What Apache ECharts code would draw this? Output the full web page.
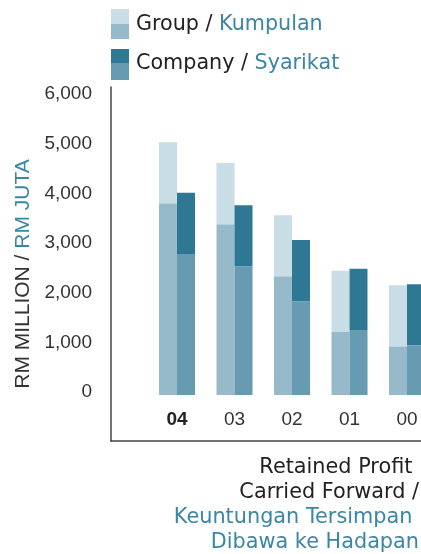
<!DOCTYPE html>
<html>
<head>
<meta charset="utf-8">
<script src="https://cdn.jsdelivr.net/npm/echarts@6/dist/echarts.min.js"></script>
<style>
  html, body { margin: 0; padding: 0; background: #fff; }
  #myChart { width: 421px; height: 554px; }
</style>
</head>
<body>
<div id="myChart"></div>
<script>
    // years, newest first
    let years = ['04', '03', '02', '01', '00'];
    // total height of each bar (RM million)
    let groupTotal = [5090, 4670, 3620, 2500, 2210];
    let companyTotal = [4070, 3820, 3120, 2540, 2230];
    // darker cap drawn on top of every bar
    let capSize = 1230;
    let yTicks = [0, 1000, 2000, 3000, 4000, 5000, 6000];

    let groupBase = groupTotal.map(v => v - capSize);
    let groupCap = groupTotal.map(() => capSize);
    let companyBase = companyTotal.map(v => v - capSize);
    let companyCap = companyTotal.map(() => capSize);

    let teal = '#3a86a4';
    let txtFont = '"DejaVu Sans", sans-serif';
    let numFont = '"Liberation Sans", Arial, sans-serif';
    let yMin = -926, yMax = 6201;

    let myChart = echarts.init(document.getElementById('myChart'));
    let option = {
        animation: false,
        title: {
            text: '{a|Retained Profit }\n{a|Carried Forward /}\n{b|Keuntungan Tersimpan }\n{b|Dibawa ke Hadapan}',
            right: -3,
            top: 450,
            textStyle: {
                fontWeight: 'normal',
                rich: {
                    a: { fontFamily: txtFont, fontSize: 20.8, color: '#222', lineHeight: 25, align: 'right' },
                    b: { fontFamily: txtFont, fontSize: 20.8, color: teal, lineHeight: 25, align: 'right' }
                }
            }
        },
        graphic: [
            // legend swatches
            { type: 'rect', shape: { x: 111, y: 9, width: 18, height: 15 }, style: { fill: '#c9dde6' } },
            { type: 'rect', shape: { x: 111, y: 24, width: 18, height: 15 }, style: { fill: '#97bacb' } },
            { type: 'rect', shape: { x: 111, y: 49, width: 18, height: 14 }, style: { fill: '#2f7894' } },
            { type: 'rect', shape: { x: 111, y: 63, width: 18, height: 17 }, style: { fill: '#669bb2' } },
            {
                type: 'text', left: 136, top: 14,
                style: {
                    text: '{a|Group / }{b|Kumpulan}',
                    rich: {
                        a: { fontFamily: txtFont, fontSize: 20.7, fill: '#222' },
                        b: { fontFamily: txtFont, fontSize: 20.7, fill: teal }
                    }
                }
            },
            {
                type: 'text', left: 136, top: 53,
                style: {
                    text: '{a|Company / }{b|Syarikat}',
                    rich: {
                        a: { fontFamily: txtFont, fontSize: 20.7, fill: '#222' },
                        b: { fontFamily: txtFont, fontSize: 20.7, fill: teal }
                    }
                }
            }
        ],
        grid: [
            { left: 111, right: 0, top: 87, bottom: 113, outerBoundsMode: 'none' },
            { left: 148.25, width: 287.5, top: 87, bottom: 113, outerBoundsMode: 'none' }
        ],
        xAxis: [
            {
                type: 'value', gridIndex: 0, min: 0, max: 1,
                axisLine: { show: true, onZero: false, lineStyle: { color: '#444', width: 1.5 } },
                axisTick: { show: false }, axisLabel: { show: false }, splitLine: { show: false }
            },
            {
                type: 'category', gridIndex: 1, data: years,
                axisLine: { show: false }, axisTick: { show: false },
                axisLabel: {
                    interval: 0,
                    margin: -31,
                    fontFamily: numFont, fontSize: 19, color: '#333',
                    formatter: (v, i) => i === 0 ? '{b|' + v + '}' : v,
                    rich: { b: { fontFamily: numFont, fontSize: 19, fontWeight: 'bold', color: '#222' } }
                }
            }
        ],
        yAxis: [
            {
                type: 'value', gridIndex: 0, min: yMin, max: yMax,
                axisLine: { show: true, lineStyle: { color: '#444', width: 1.5 } },
                axisTick: { show: false }, splitLine: { show: false },
                axisLabel: {
                    customValues: yTicks,
                    margin: 19,
                    formatter: v => '{n|' + v.toLocaleString('en-US') + '}',
                    rich: { n: { fontFamily: numFont, fontSize: 19, color: '#333', padding: [0, 0, 6, 0] } }
                },
                name: '{a|RM MILLION / }{b|RM JUTA}',
                nameLocation: 'middle',
                nameRotate: 90,
                nameGap: 76,
                nameTextStyle: {
                    padding: [0, 20, 0, 0],
                    rich: {
                        a: { fontFamily: numFont, fontSize: 21, color: '#333' },
                        b: { fontFamily: numFont, fontSize: 21, color: teal }
                    }
                }
            },
            {
                type: 'value', gridIndex: 1, min: yMin, max: yMax, show: false
            }
        ],
        series: [
            { name: 'Group', type: 'bar', xAxisIndex: 1, yAxisIndex: 1, stack: 'g', data: groupBase, barWidth: 18, barGap: 0, itemStyle: { color: '#97bacb' } },
            { name: 'Group cap', type: 'bar', xAxisIndex: 1, yAxisIndex: 1, stack: 'g', data: groupCap, barWidth: 18, barGap: 0, itemStyle: { color: '#c9dde6' } },
            { name: 'Company', type: 'bar', xAxisIndex: 1, yAxisIndex: 1, stack: 'c', data: companyBase, barWidth: 18, barGap: 0, itemStyle: { color: '#669bb2' } },
            { name: 'Company cap', type: 'bar', xAxisIndex: 1, yAxisIndex: 1, stack: 'c', data: companyCap, barWidth: 18, barGap: 0, itemStyle: { color: '#2f7894' } }
        ]
    };
    myChart.setOption(option);
</script>
</body>
</html>
